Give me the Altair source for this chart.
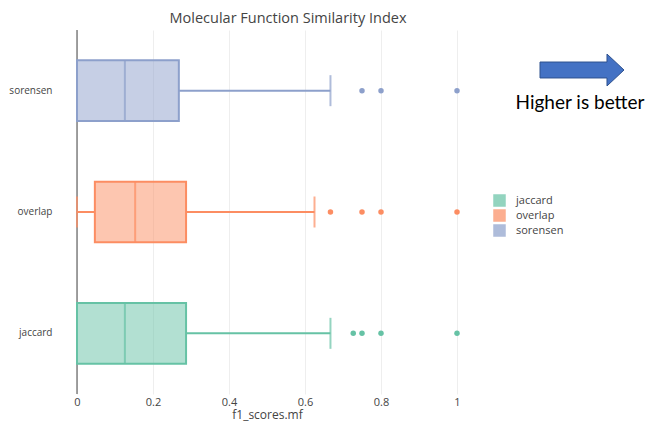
import altair as alt
import pandas as pd

# ---- data ----
methods = ["jaccard", "overlap", "sorensen"]
q1 = [0.0, 0.047, 0.0]
median = [0.126, 0.153, 0.126]
q3 = [0.287, 0.287, 0.268]
lower = [0.0, 0.0, 0.0]
upper = [0.667, 0.625, 0.667]
outliers = {
    "jaccard": [0.727, 0.75, 0.8, 1.0],
    "overlap": [0.667, 0.75, 0.8, 1.0],
    "sorensen": [0.75, 0.8, 1.0],
}
colors = ["#66c2a5", "#fc8d62", "#8da0cb"]
x_ticks = [0, 0.2, 0.4, 0.6, 0.8, 1]
y_order = ["sorensen", "overlap", "jaccard"]

stats = pd.DataFrame({
    "method": methods, "q1": q1, "median": median, "q3": q3,
    "lower": lower, "upper": upper,
})
out_df = pd.DataFrame(
    [{"method": m, "value": v} for m in methods for v in outliers[m]]
)

FONT = "Open Sans"
GRAY = "#444444"

xscale = alt.Scale(domain=[-0.05, 1.05], nice=False, zero=False)
yscale = alt.Scale(domain=y_order, paddingInner=0.5, paddingOuter=0.25)
cscale = alt.Scale(domain=methods, range=colors)

x_axis = alt.Axis(
    values=x_ticks, grid=True, gridColor="#eeeeee", gridWidth=1,
    domain=False, ticks=False, tickSize=0, labelPadding=2,
    labelFont=FONT, labelFontSize=11, labelColor=GRAY,
    title="f1_scores.mf", titleFont=FONT, titleFontSize=12,
    titleFontWeight="normal", titleColor=GRAY, titlePadding=2,
    labelExpr="datum.value == 0 ? '0' : datum.value == 1 ? '1' : format(datum.value, '.1f')",
)
y_axis = alt.Axis(
    title=None, domain=False, ticks=False, tickSize=0, grid=False,
    labelFont=FONT, labelFontSize=10, labelColor=GRAY, labelPadding=6,
)

legend = alt.Legend(
    orient="none", legendX=435, legendY=164, padding=0,
    symbolType="square", symbolSize=121, symbolStrokeWidth=1.5,
    labelFont=FONT, labelFontSize=11, labelColor=GRAY,
    labelOffset=10, rowPadding=-2, title=None,
)

base = alt.Chart(stats)

zero = alt.Chart(pd.DataFrame({"z": [0.0]})).mark_rule(
    color=GRAY, strokeWidth=1
).encode(x=alt.X("z:Q", scale=xscale, axis=x_axis))

y_enc = alt.Y("method:N", scale=yscale, sort=y_order, axis=y_axis)


def col():
    return alt.Color("method:N", scale=cscale, title=None, legend=legend)


whisk_hi = base.mark_rule(strokeWidth=2).encode(
    x=alt.X("q3:Q", scale=xscale), x2="upper:Q", y=y_enc, color=col(),
)
whisk_lo = base.mark_rule(strokeWidth=2).encode(
    x=alt.X("lower:Q", scale=xscale), x2="q1:Q", y=y_enc, color=col(),
)
box = base.mark_bar(fillOpacity=0.5, strokeWidth=2).encode(
    x=alt.X("q1:Q", scale=xscale), x2="q3:Q", y=y_enc,
    color=col(),
    stroke=alt.Stroke("method:N", scale=cscale, title=None, legend=legend),
)
med = base.mark_tick(size=60, thickness=2).encode(
    x=alt.X("median:Q", scale=xscale), y=y_enc, color=col(),
)
cap_hi = base.mark_tick(size=31, thickness=2).encode(
    x=alt.X("upper:Q", scale=xscale), y=y_enc, color=col(),
)
cap_lo = base.mark_tick(size=31, thickness=2).encode(
    x=alt.X("lower:Q", scale=xscale), y=y_enc, color=col(),
)
pts = alt.Chart(out_df).mark_circle(size=30, opacity=1).encode(
    x=alt.X("value:Q", scale=xscale), y=y_enc, color=col(),
)

arrow_path = "M -1 -0.19 L 0.595 -0.19 L 0.595 -0.38 L 1 0 L 0.595 0.38 L 0.595 0.19 L -1 0.19 Z"
arrow = alt.Chart(pd.DataFrame({"a": [1]})).mark_point(
    shape=arrow_path, filled=True, fill="#4472c4", stroke="#2f528f",
    strokeWidth=1, size=7056, opacity=1,
).encode(x=alt.value(524), y=alt.value(40))
note = alt.Chart(pd.DataFrame({"t": ["Higher is better"]})).mark_text(
    font="Lato", fontSize=19, color="#000000", align="center", baseline="middle",
).encode(x=alt.value(522), y=alt.value(73), text="t:N")

chart = alt.layer(
    zero, whisk_hi, whisk_lo, box, med, cap_hi, cap_lo, pts, arrow, note
).properties(
    width=418, height=364,
    title=alt.TitleParams(
        "Molecular Function Similarity Index", font=FONT, fontSize=14.5,
        fontWeight="normal", color=GRAY, anchor="middle", dx=21, offset=3,
    ),
    autosize=alt.AutoSizeParams(type="none"),
    padding={"left": 50, "top": 22, "right": 172, "bottom": 29},
).configure_view(stroke=None)

chart.save("out.html", embed_options={"renderer": "svg", "actions": False})
